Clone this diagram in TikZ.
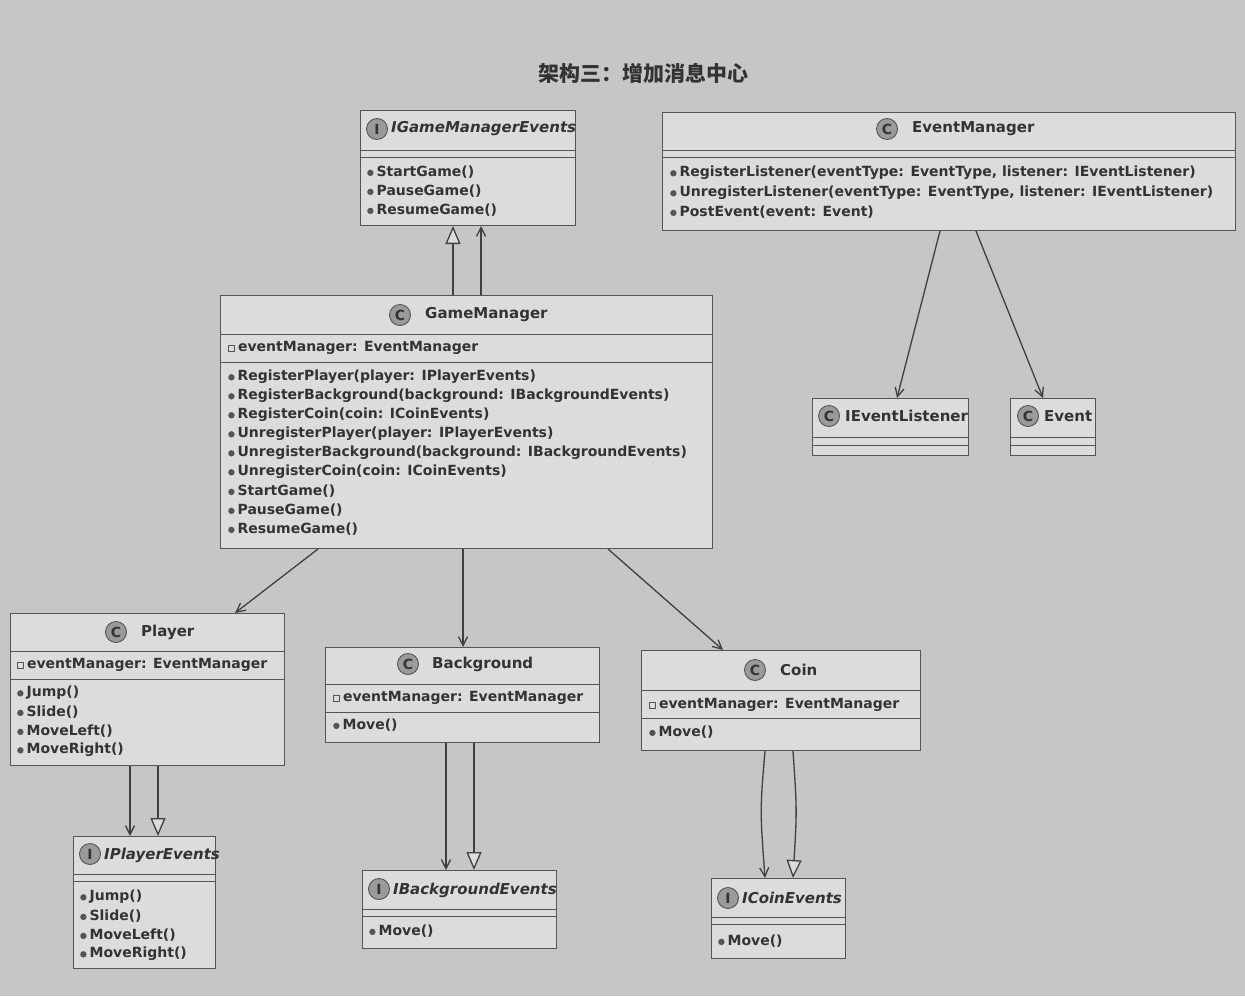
\documentclass[tikz,border=0pt]{standalone}
\usepackage{fontspec}
\setmainfont{DejaVu Sans}
\newfontfamily\cjk{Noto Sans CJK SC}
\usetikzlibrary{arrows.meta}
\definecolor{bg}{HTML}{C6C6C6}
\definecolor{bx}{HTML}{DCDCDC}
\definecolor{ln}{HTML}{555555}
\definecolor{ic}{HTML}{9A9A9A}
\newcommand{\mb}{\tikz[baseline=-3.5pt]\fill[ln] (0,0) circle (3.2pt);\kern3pt}
\newcommand{\ab}{\tikz[baseline=-3.5pt]\draw[ln,line width=0.9pt] (-3pt,-3pt) rectangle (3pt,3pt);\kern3pt}
\tikzset{
 box/.style={draw=ln, fill=bx, line width=1pt, anchor=north west, inner sep=0pt},
 sep/.style={draw=ln, line width=0.9pt},
 txt/.style={anchor=west, inner sep=0pt, font=\fontsize{14}{16}\selectfont\bfseries, text=black!80},
 hd/.style={anchor=west, inner sep=0pt, font=\fontsize{15}{17}\selectfont\bfseries, text=black!80},
 ico/.style={circle, draw=ln, fill=ic, line width=0.9pt, minimum size=21pt, inner sep=0pt, font=\fontsize{14}{14}\selectfont\bfseries, text=black!80},
 con/.style={draw=black!75, line width=1.3pt},
 opn/.style={con, -{Straight Barb[length=9pt,width=9pt]}},
 tri/.style={con, -{Triangle[open,length=18pt,width=15pt,fill=bx]}}
}
\begin{document}
\begin{tikzpicture}[x=1pt,y=-1pt]
\fill[bg] (0,0) rectangle (1245,996);
\useasboundingbox (0,0) rectangle (1245,996);
\node[font=\cjk\fontsize{21}{23}\selectfont\bfseries, text=black!80] (title) at (643,73) {架构三：增加消息中心};

% IGameManagerEvents
\node[box, minimum width=215pt, minimum height=115pt] (igm) at (360,110) {};
\draw[sep] (360,150) -- (575,150); \draw[sep] (360,157) -- (575,157);
\node[ico] (igmi) at (377,129) {I};
\node[hd] (igmt) at (391,129) {\itshape IGameManagerEvents};
\node[txt] (igm1) at (367,172) {\mb StartGame()};
\node[txt] (igm2) at (367,191) {\mb PauseGame()};
\node[txt] (igm3) at (367,210) {\mb ResumeGame()};

% EventManager
\node[box, minimum width=573pt, minimum height=118pt] (em) at (662,112) {};
\draw[sep] (662,150) -- (1235,150); \draw[sep] (662,157) -- (1235,157);
\node[ico] (emi) at (887,129) {C};
\node[hd] (emt) at (912,129) {EventManager};
\node[txt] (em1) at (670,173) {\mb RegisterListener(eventType: EventType, listener: IEventListener)};
\node[txt] (em2) at (670,193) {\mb UnregisterListener(eventType: EventType, listener: IEventListener)};
\node[txt] (em3) at (670,212) {\mb PostEvent(event: Event)};

% GameManager
\node[box, minimum width=492pt, minimum height=253pt] (gm) at (220,295) {};
\draw[sep] (220,334) -- (712,334); \draw[sep] (220,362) -- (712,362);
\node[ico] (gmi) at (400,315) {C};
\node[hd] (gmt) at (425,315) {GameManager};
\node[txt] (gma) at (228,348) {\ab eventManager: EventManager};
\foreach \t [count=\i] in {RegisterPlayer(player: IPlayerEvents),RegisterBackground(background: IBackgroundEvents),RegisterCoin(coin: ICoinEvents),UnregisterPlayer(player: IPlayerEvents),UnregisterBackground(background: IBackgroundEvents),UnregisterCoin(coin: ICoinEvents),StartGame(),PauseGame(),ResumeGame()}
  \node[txt] (gm\i) at (228,{377+19*(\i-1)}) {\mb \t};

% IEventListener
\node[box, minimum width=156pt, minimum height=57pt] (iel) at (812,398) {};
\draw[sep] (812,437) -- (968,437); \draw[sep] (812,445) -- (968,445);
\node[ico] (ieli) at (829,416) {C};
\node[hd] (ielt) at (845,416) {IEventListener};

% Event
\node[box, minimum width=85pt, minimum height=57pt] (ev) at (1010,398) {};
\draw[sep] (1010,437) -- (1095,437); \draw[sep] (1010,445) -- (1095,445);
\node[ico] (evi) at (1028,416) {C};
\node[hd] (evt) at (1044,416) {Event};

% Player
\node[box, minimum width=274pt, minimum height=152pt] (pl) at (10,613) {};
\draw[sep] (10,651) -- (284,651); \draw[sep] (10,679) -- (284,679);
\node[ico] (pli) at (116,632) {C};
\node[hd] (plt) at (141,632) {Player};
\node[txt] (pla) at (17,665) {\ab eventManager: EventManager};
\node[txt] (pl1) at (17,693) {\mb Jump()};
\node[txt] (pl2) at (17,712) {\mb Slide()};
\node[txt] (pl3) at (17,731) {\mb MoveLeft()};
\node[txt] (pl4) at (17,750) {\mb MoveRight()};

% Background
\node[box, minimum width=274pt, minimum height=95pt] (bgd) at (325,647) {};
\draw[sep] (325,684) -- (599,684); \draw[sep] (325,712) -- (599,712);
\node[ico] (bgi) at (408,664) {C};
\node[hd] (bgt) at (432,664) {Background};
\node[txt] (bga) at (333,698) {\ab eventManager: EventManager};
\node[txt] (bg1) at (333,725) {\mb Move()};

% Coin
\node[box, minimum width=279pt, minimum height=100pt] (cn) at (641,650) {};
\draw[sep] (641,690) -- (920,690); \draw[sep] (641,718) -- (920,718);
\node[ico] (cni) at (755,670) {C};
\node[hd] (cnt) at (780,670) {Coin};
\node[txt] (cna) at (649,705) {\ab eventManager: EventManager};
\node[txt] (cn1) at (649,732) {\mb Move()};

% IPlayerEvents
\node[box, minimum width=142pt, minimum height=132pt] (ipe) at (73,836) {};
\draw[sep] (73,874) -- (215,874); \draw[sep] (73,881) -- (215,881);
\node[ico] (ipei) at (90,854) {I};
\node[hd] (ipet) at (104,855) {\itshape IPlayerEvents};
\node[txt] (ipe1) at (80,897) {\mb Jump()};
\node[txt] (ipe2) at (80,916) {\mb Slide()};
\node[txt] (ipe3) at (80,935) {\mb MoveLeft()};
\node[txt] (ipe4) at (80,954) {\mb MoveRight()};

% IBackgroundEvents
\node[box, minimum width=194pt, minimum height=78pt] (ibe) at (362,870) {};
\draw[sep] (362,909) -- (556,909); \draw[sep] (362,916) -- (556,916);
\node[ico] (ibei) at (379,889) {I};
\node[hd] (ibet) at (393,890) {\itshape IBackgroundEvents};
\node[txt] (ibe1) at (369,931) {\mb Move()};

% ICoinEvents
\node[box, minimum width=134pt, minimum height=80pt] (ice) at (711,878) {};
\draw[sep] (711,917) -- (845,917); \draw[sep] (711,924) -- (845,924);
\node[ico] (icei) at (728,898) {I};
\node[hd] (icet) at (742,898) {\itshape ICoinEvents};
\node[txt] (ice1) at (718,941) {\mb Move()};

% connectors
\draw[tri] ([xshift=233pt]gm.north west) -- ([xshift=93pt]igm.south west);
\draw[opn] ([xshift=261pt]gm.north west) -- ([xshift=121pt]igm.south west);
\draw[opn] ([xshift=278pt]em.south west) -- ([xshift=85pt]iel.north west);
\draw[opn] ([xshift=314pt]em.south west) -- ([xshift=33pt]ev.north west);
\draw[opn] ([xshift=98pt]gm.south west) -- ([xshift=225pt]pl.north west);
\draw[opn] ([xshift=243pt]gm.south west) -- ([xshift=138pt]bgd.north west);
\draw[opn] ([xshift=388pt]gm.south west) -- ([xshift=82pt]cn.north west);
\draw[opn] ([xshift=120pt]pl.south west) -- ([xshift=57pt]ipe.north west);
\draw[tri] ([xshift=148pt]pl.south west) -- ([xshift=85pt]ipe.north west);
\draw[opn] ([xshift=121pt]bgd.south west) -- ([xshift=84pt]ibe.north west);
\draw[tri] ([xshift=149pt]bgd.south west) -- ([xshift=112pt]ibe.north west);
\draw[opn] ([xshift=124pt]cn.south west) .. controls (760,810) .. ([xshift=54pt]ice.north west);
\draw[tri] ([xshift=152pt]cn.south west) .. controls (797,810) .. ([xshift=82pt]ice.north west);
\end{tikzpicture}
\end{document}
